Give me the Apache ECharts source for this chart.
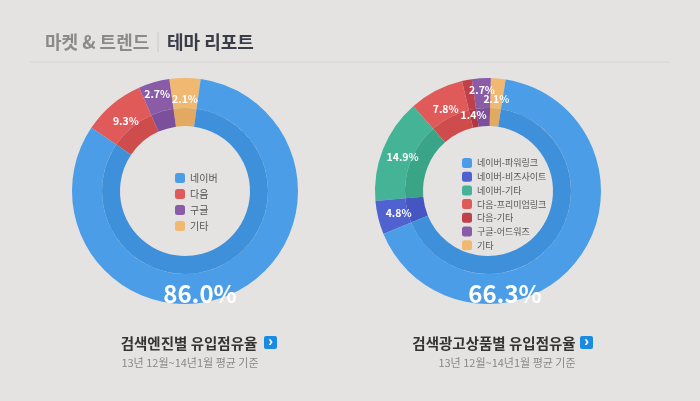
<!DOCTYPE html>
<html><head><meta charset="utf-8">
<script src="https://cdn.jsdelivr.net/npm/echarts@6/dist/echarts.min.js"></script>
<style>body{margin:0;background:#e4e3e1}#c{width:700px;height:401px}</style>
</head><body><div id="c"></div>
<script>
const engineNames = ["네이버", "다음", "구글", "기타"];
const engineValues = [86.0, 9.3, 2.7, 2.1];
const engineColors = ["#4a9de6", "#e05a5a", "#8a5ca8", "#f0b870"];
const engineInner = ["#3f90db", "#cf4c4c", "#7c4f9a", "#e2a961"];

const productNames = ["네이버-파워링크", "네이버-비즈사이트", "네이버-기타", "다음-프리미엄링크", "다음-기타", "구글-어드워즈", "기타"];
const productValues = [66.3, 4.8, 14.9, 7.8, 1.4, 2.7, 2.1];
const productColors = ["#4a9de6", "#4f62cf", "#45b395", "#e05a5a", "#c0404a", "#8a5ca8", "#f0b870"];
const productInner = ["#3f90db", "#4556c2", "#3aa487", "#cf4c4c", "#b03640", "#7c4f9a", "#e2a961"];

const font = "'Noto Sans CJK KR', sans-serif";
const chart = echarts.init(document.getElementById("c"));

// labelRing: 'outer' / 'inner' / 'mid' = where each slice's label sits
function rings(names, values, colors, inner, cx, start, minAngle, labelRing) {
  // counter-clockwise from the top: last category first
  const idx = names.map((_, i) => names.length - 1 - i);
  const fmt = p => p.value.toFixed(1) + "%";
  const lab = { position: "inside", formatter: fmt, color: "#fff", fontSize: 10.5, fontWeight: "bold", fontFamily: font };
  const mk = (ring, colorArr, transparent) => idx.map(i => ({
    name: names[i], value: values[i],
    itemStyle: { color: transparent ? "rgba(0,0,0,0)" : colorArr[i] },
    label: { show: i !== 0 && (labelRing[i] || "mid") === ring }
  }));
  const base = { type: "pie", center: [cx, 191], startAngle: start, clockwise: false, minAngle,
    avoidLabelOverlap: false, labelLayout: { hideOverlap: false },
    silent: true, labelLine: { show: false }, label: lab };
  return [
    { ...base, radius: [83, 113], data: mk("outer", colors) },
    { ...base, radius: [65, 83], data: mk("inner", inner) },
    { ...base, radius: [65, 113], data: mk("mid", colors, true), z: 3 }
  ];
}

function bottomText(cx, titleX, iconX, subX, title, sub, big) {
  return [
    { type: "text", x: cx, y: 294, z: 10, style: { text: big.toFixed(1) + "%", fill: "#fff",
      font: "bold 24px " + font, textAlign: "center", textVerticalAlign: "middle" } },
    { type: "text", x: titleX, y: 343, style: { text: title, fill: "#333", font: "bold 14.5px " + font,
      textAlign: "center", textVerticalAlign: "middle" } },
    { type: "rect", shape: { x: iconX, y: 336, width: 13, height: 13, r: 2 }, style: { fill: "#1a8be0" } },
    { type: "text", x: iconX + 6.5, y: 342, style: { text: "›", fill: "#fff", font: "bold 14px sans-serif",
      textAlign: "center", textVerticalAlign: "middle" } },
    { type: "text", x: subX, y: 363, style: { text: sub, fill: "#888", font: "11px " + font,
      textAlign: "center", textVerticalAlign: "middle" } }
  ];
}

chart.setOption({
  animation: false,
  legend: [
    { data: engineNames, orient: "vertical", left: 170, top: 168, itemWidth: 10, itemHeight: 10,
      itemGap: 6, icon: "roundRect", textStyle: { fontSize: 10, color: "#555", fontFamily: font } },
    { data: productNames, orient: "vertical", left: 457, top: 153, itemWidth: 10, itemHeight: 10,
      itemGap: 3.7, icon: "roundRect", textStyle: { fontSize: 9, color: "#555", fontFamily: font } }
  ],
  series: [
    ...rings(engineNames, engineValues, engineColors, engineInner, 185, 82, 16, { 2: "outer" }),
    ...rings(productNames, productValues, productColors, productInner, 488, 81, 0, { 4: "inner", 5: "outer" })
  ],
  graphic: [
    { type: "text", x: 45, y: 42, style: { text: "마켓 & 트렌드", fill: "#8a8a8a", font: "bold 18px " + font,
      textVerticalAlign: "middle" } },
    { type: "line", shape: { x1: 158, y1: 32, x2: 158, y2: 52 }, style: { stroke: "#c8c8c8", lineWidth: 1 } },
    { type: "text", x: 167, y: 42, style: { text: "테마 리포트", fill: "#3a3d48", font: "bold 18px " + font,
      textVerticalAlign: "middle" } },
    { type: "line", shape: { x1: 30, y1: 62, x2: 670, y2: 62 }, style: { stroke: "#d6d5d3", lineWidth: 1 } },
    ...bottomText(200, 189, 264, 190, "검색엔진별 유입점유율", "13년 12월~14년1월 평균 기준", engineValues[0]),
    ...bottomText(505, 494, 580, 507, "검색광고상품별 유입점유율", "13년 12월~14년1월 평균 기준", productValues[0])
  ]
});
</script></body></html>
